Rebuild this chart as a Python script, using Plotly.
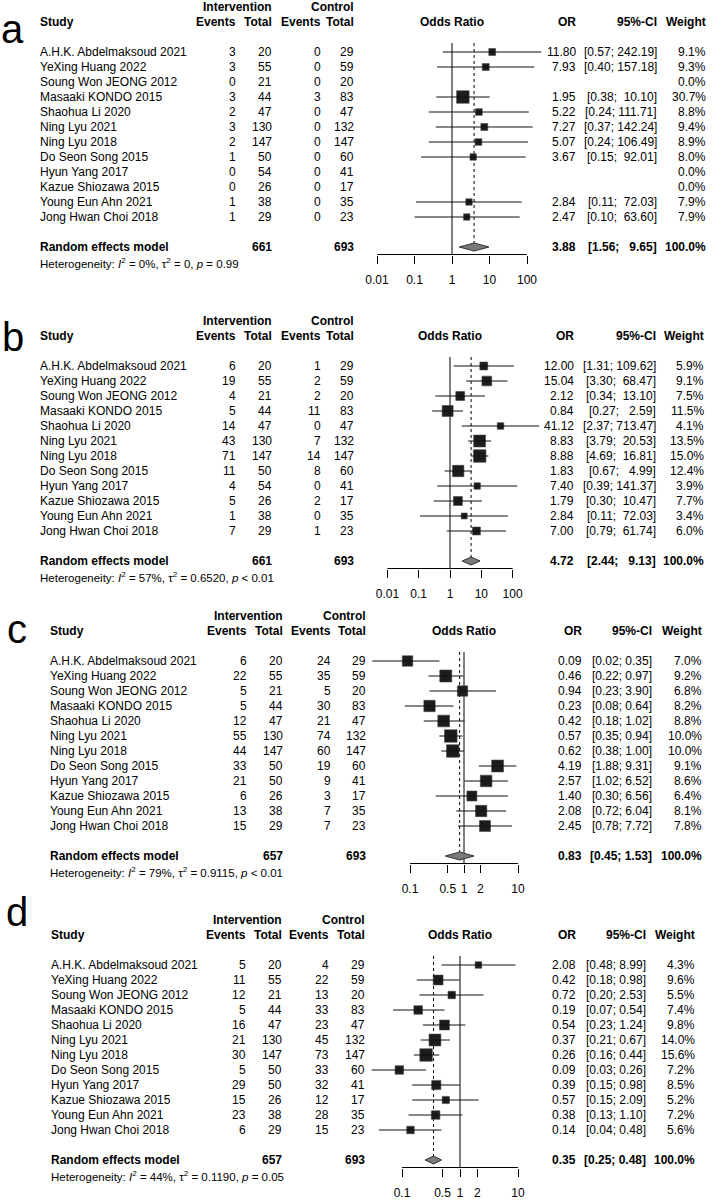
import math
import plotly.graph_objects as go

W, H = 715, 1202
FONT = "Liberation Sans, Arial, sans-serif"
NB = "\u00a0"

studies = ["A.H.K. Abdelmaksoud 2021", "YeXing Huang 2022", "Soung Won JEONG 2012",
           "Masaaki KONDO 2015", "Shaohua Li 2020", "Ning Lyu 2021", "Ning Lyu 2018",
           "Do Seon Song 2015", "Hyun Yang 2017", "Kazue Shiozawa 2015",
           "Young Eun Ahn 2021", "Jong Hwan Choi 2018"]
ctrl_total = [29, 59, 20, 83, 47, 132, 147, 60, 41, 17, 35, 23]
int_total_ab = [20, 55, 21, 44, 47, 130, 147, 50, 54, 26, 38, 29]
int_total_cd = [20, 55, 21, 44, 47, 130, 147, 50, 50, 26, 38, 29]

# Panel a
a_ev_i = [3, 3, 0, 3, 2, 3, 2, 1, 0, 0, 1, 1]
a_ev_c = [0, 0, 0, 3, 0, 0, 0, 0, 0, 0, 0, 0]
a_or = [11.80, 7.93, None, 1.95, 5.22, 7.27, 5.07, 3.67, None, None, 2.84, 2.47]
a_lo = [0.57, 0.40, None, 0.38, 0.24, 0.37, 0.24, 0.15, None, None, 0.11, 0.10]
a_hi = [242.19, 157.18, None, 10.10, 111.71, 142.24, 106.49, 92.01, None, None, 72.03, 63.60]
a_w = [9.1, 9.3, 0.0, 30.7, 8.8, 9.4, 8.9, 8.0, 0.0, 0.0, 7.9, 7.9]
a_sum = (3.88, 1.56, 9.65)
a_tot = (661, 693)
a_het = "Heterogeneity: <i>I</i><sup>2</sup> = 0%, τ<sup>2</sup> = 0, <i>p</i> = 0.99"

# Panel b
b_ev_i = [6, 19, 4, 5, 14, 43, 71, 11, 4, 5, 1, 7]
b_ev_c = [1, 2, 2, 11, 0, 7, 14, 8, 0, 2, 0, 1]
b_or = [12.00, 15.04, 2.12, 0.84, 41.12, 8.83, 8.88, 1.83, 7.40, 1.79, 2.84, 7.00]
b_lo = [1.31, 3.30, 0.34, 0.27, 2.37, 3.79, 4.69, 0.67, 0.39, 0.30, 0.11, 0.79]
b_hi = [109.62, 68.47, 13.10, 2.59, 713.47, 20.53, 16.81, 4.99, 141.37, 10.47, 72.03, 61.74]
b_w = [5.9, 9.1, 7.5, 11.5, 4.1, 13.5, 15.0, 12.4, 3.9, 7.7, 3.4, 6.0]
b_sum = (4.72, 2.44, 9.13)
b_tot = (661, 693)
b_het = "Heterogeneity: <i>I</i><sup>2</sup> = 57%, τ<sup>2</sup> = 0.6520, <i>p</i> < 0.01"

# Panel c
c_ev_i = [6, 22, 5, 5, 12, 55, 44, 33, 21, 6, 13, 15]
c_ev_c = [24, 35, 5, 30, 21, 74, 60, 19, 9, 3, 7, 7]
c_or = [0.09, 0.46, 0.94, 0.23, 0.42, 0.57, 0.62, 4.19, 2.57, 1.40, 2.08, 2.45]
c_lo = [0.02, 0.22, 0.23, 0.08, 0.18, 0.35, 0.38, 1.88, 1.02, 0.30, 0.72, 0.78]
c_hi = [0.35, 0.97, 3.90, 0.64, 1.02, 0.94, 1.00, 9.31, 6.52, 6.56, 6.04, 7.72]
c_w = [7.0, 9.2, 6.8, 8.2, 8.8, 10.0, 10.0, 9.1, 8.6, 6.4, 8.1, 7.8]
c_sum = (0.83, 0.45, 1.53)
c_tot = (657, 693)
c_het = "Heterogeneity: <i>I</i><sup>2</sup> = 79%, τ<sup>2</sup> = 0.9115, <i>p</i> < 0.01"

# Panel d
d_ev_i = [5, 11, 12, 5, 16, 21, 30, 5, 29, 15, 23, 6]
d_ev_c = [4, 22, 13, 33, 23, 45, 73, 33, 32, 12, 28, 15]
d_or = [2.08, 0.42, 0.72, 0.19, 0.54, 0.37, 0.26, 0.09, 0.39, 0.57, 0.38, 0.14]
d_lo = [0.48, 0.18, 0.20, 0.07, 0.23, 0.21, 0.16, 0.03, 0.15, 0.15, 0.13, 0.04]
d_hi = [8.99, 0.98, 2.53, 0.54, 1.24, 0.67, 0.44, 0.26, 0.98, 2.09, 1.10, 0.48]
d_w = [4.3, 9.6, 5.5, 7.4, 9.8, 14.0, 15.6, 7.2, 8.5, 5.2, 7.2, 5.6]
d_sum = (0.35, 0.25, 0.48)
d_tot = (657, 693)
d_het = "Heterogeneity: <i>I</i><sup>2</sup> = 44%, τ<sup>2</sup> = 0.1190, <i>p</i> = 0.05"

ticks_ab = [0.01, 0.1, 1, 10, 100]
ticklabels_ab = ["0.01", "0.1", "1", "10", "100"]
ticks_cd = [0.1, 0.5, 1, 2, 10]
ticklabels_cd = ["0.1", "0.5", "1", "2", "10"]

panels = [
    dict(letter="a", ev_i=a_ev_i, n_i=int_total_ab, ev_c=a_ev_c, n_c=ctrl_total, orv=a_or, lo=a_lo, hi=a_hi,
         w=a_w, summ=a_sum, tot=a_tot, het=a_het, ticks=ticks_ab, ticklabels=ticklabels_ab),
    dict(letter="b", ev_i=b_ev_i, n_i=int_total_ab, ev_c=b_ev_c, n_c=ctrl_total, orv=b_or, lo=b_lo, hi=b_hi,
         w=b_w, summ=b_sum, tot=b_tot, het=b_het, ticks=ticks_ab, ticklabels=ticklabels_ab),
    dict(letter="c", ev_i=c_ev_i, n_i=int_total_cd, ev_c=c_ev_c, n_c=ctrl_total, orv=c_or, lo=c_lo, hi=c_hi,
         w=c_w, summ=c_sum, tot=c_tot, het=c_het, ticks=ticks_cd, ticklabels=ticklabels_cd),
    dict(letter="d", ev_i=d_ev_i, n_i=int_total_cd, ev_c=d_ev_c, n_c=ctrl_total, orv=d_or, lo=d_lo, hi=d_hi,
         w=d_w, summ=d_sum, tot=d_tot, het=d_het, ticks=ticks_cd, ticklabels=ticklabels_cd),
]

# layout geometry (pixels)
geo = [
    dict(row1=52, letter_xy=(12, 29), name_x=39, cols=[237, 273, 322, 355], center=452, ppd=37.5,
         or_x=577, ci_x=658, w_x=707),
    dict(row1=366, letter_xy=(13, 337), name_x=39, cols=[237, 273, 322, 355], center=450, ppd=31.3,
         or_x=575, ci_x=657, w_x=705),
    dict(row1=661, letter_xy=(17, 629), name_x=49, cols=[248, 284, 332, 367], center=464, ppd=54,
         or_x=583, ci_x=653, w_x=703),
    dict(row1=965, letter_xy=(17, 912), name_x=50, cols=[247, 283, 330, 366], center=460, ppd=58,
         or_x=577, ci_x=647, w_x=696),
]
ROWH = 15.0
SUM_ROW = 14
AXIS_OFF = 7.5   # px below summary row
HET_OFF = 16     # px below summary row
DIAM_H = 4.0     # half-height of diamond in px
SQ_MAX = 12.5
X_DOM = (362, 552)

fig = go.Figure()


def txt(x_px, y_px, text, anchor="left", size=12, bold=False):
    fig.add_annotation(x=x_px / W, y=1 - y_px / H, xref="paper", yref="paper",
                       text=("<b>%s</b>" % text) if bold else text, showarrow=False,
                       xanchor=anchor, yanchor="middle", borderpad=0,
                       font=dict(family=FONT, size=size, color="black"))


def f2(v):
    return "%.2f" % v


for i, (p, g) in enumerate(zip(panels, geo)):
    k = "" if i == 0 else str(i + 1)
    xa, ya = "x" + k, "y" + k
    row1 = g["row1"]

    def rpx(r):
        return row1 + (r - 1) * ROWH

    axis_px = rpx(SUM_ROW) + AXIS_OFF
    axis_row = SUM_ROW + AXIS_OFF / ROWH
    top_px = row1 - 20
    bot_px = axis_px + 5
    fig.update_layout(**{
        "yaxis" + k: dict(domain=[1 - bot_px / H, 1 - top_px / H],
                          range=[1 + (bot_px - row1) / ROWH, 1 + (top_px - row1) / ROWH],
                          visible=False, fixedrange=True),
        "xaxis" + k: dict(type="log", domain=[X_DOM[0] / W, X_DOM[1] / W],
                          range=[(X_DOM[0] - g["center"]) / g["ppd"], (X_DOM[1] - g["center"]) / g["ppd"]],
                          anchor="free", position=1 - axis_px / H,
                          tickmode="array", tickvals=p["ticks"], ticktext=p["ticklabels"],
                          ticks="outside", ticklen=8, tickwidth=1, tickcolor="black",
                          showline=False, showgrid=False, zeroline=False,
                          tickfont=dict(family=FONT, size=12, color="black"),
                          ticklabelstandoff=6, fixedrange=True),
    })

    rows = list(range(1, len(studies) + 1))
    # baseline of axis
    fig.add_trace(go.Scatter(x=[p["ticks"][0], p["ticks"][-1]], y=[axis_row, axis_row], mode="lines",
                             line=dict(color="black", width=1), xaxis=xa, yaxis=ya, hoverinfo="skip"))
    # null line
    fig.add_trace(go.Scatter(x=[1, 1], y=[0.4, axis_row], mode="lines",
                             line=dict(color="black", width=1), xaxis=xa, yaxis=ya, hoverinfo="skip"))
    s_or, s_lo, s_hi = p["summ"]
    dh = DIAM_H / ROWH
    fig.add_trace(go.Scatter(x=[s_or, s_or], y=[0.4, SUM_ROW - dh], mode="lines",
                             line=dict(color="black", width=1, dash="dot"), xaxis=xa, yaxis=ya, hoverinfo="skip"))
    # squares
    wmax = max(p["w"])
    sx, sy, ss = [], [], []
    for r, o, wt in zip(rows, p["orv"], p["w"]):
        if o is None:
            continue
        sx.append(o)
        sy.append(r)
        ss.append(SQ_MAX * math.sqrt(wt / wmax))
    fig.add_trace(go.Scatter(x=sx, y=sy, mode="markers",
                             marker=dict(symbol="square", size=ss, color="#1c1c1c", opacity=1,
                                         line=dict(width=0.6, color="#444444")),
                             xaxis=xa, yaxis=ya, hoverinfo="skip"))
    # CI lines
    lx, ly = [], []
    for r, lo, hi in zip(rows, p["lo"], p["hi"]):
        if lo is None:
            continue
        lx += [lo, hi, None]
        ly += [r, r, None]
    fig.add_trace(go.Scatter(x=lx, y=ly, mode="lines", line=dict(color="#111111", width=1),
                             xaxis=xa, yaxis=ya, hoverinfo="skip"))
    # diamond
    fig.add_trace(go.Scatter(x=[s_lo, s_or, s_hi, s_or, s_lo], y=[SUM_ROW, SUM_ROW - dh, SUM_ROW, SUM_ROW + dh, SUM_ROW],
                             mode="lines", fill="toself", fillcolor="#7a7a7a",
                             line=dict(color="#333333", width=1), xaxis=xa, yaxis=ya, hoverinfo="skip"))

    # ---- text ----
    txt(g["letter_xy"][0], g["letter_xy"][1], p["letter"], anchor="center", size=40)
    cols = g["cols"]
    txt(cols[1], rpx(-2), "Intervention", "right", bold=True)
    txt(cols[3], rpx(-2), "Control", "right", bold=True)
    txt(g["name_x"], rpx(-1), "Study", "left", bold=True)
    txt(cols[0], rpx(-1), "Events", "right", bold=True)
    txt(cols[1], rpx(-1), "Total", "right", bold=True)
    txt(cols[2], rpx(-1), "Events", "right", bold=True)
    txt(cols[3], rpx(-1), "Total", "right", bold=True)
    txt(g["center"], rpx(-1), "Odds Ratio", "center", bold=True)
    txt(g["or_x"], rpx(-1), "OR", "right", bold=True)
    txt(g["ci_x"], rpx(-1), "95%-CI", "right", bold=True)
    txt(g["w_x"], rpx(-1), "Weight", "right", bold=True)

    # CI string widths
    lo_strs = [f2(v) for v in p["lo"] if v is not None] + [f2(s_lo)]
    hi_strs = [f2(v) for v in p["hi"] if v is not None] + [f2(s_hi)]
    wl = max(len(s) for s in lo_strs)
    wh = max(len(s) for s in hi_strs)

    def ci_str(lo, hi):
        s = "[" + f2(lo).rjust(wl) + "; " + f2(hi).rjust(wh) + "]"
        return s.replace(" ", NB)

    for r, name, ei, ni, ec, nc, o, lo, hi, wt in zip(rows, studies, p["ev_i"], p["n_i"], p["ev_c"], p["n_c"],
                                                      p["orv"], p["lo"], p["hi"], p["w"]):
        y = rpx(r)
        txt(g["name_x"], y, name, "left")
        txt(cols[0], y, str(ei), "right")
        txt(cols[1], y, str(ni), "right")
        txt(cols[2], y, str(ec), "right")
        txt(cols[3], y, str(nc), "right")
        if o is not None:
            txt(g["or_x"], y, f2(o), "right")
            txt(g["ci_x"], y, ci_str(lo, hi), "right")
        txt(g["w_x"], y, "%.1f%%" % wt, "right")

    ys = rpx(SUM_ROW)
    txt(g["name_x"], ys, "Random effects model", "left", bold=True)
    txt(cols[1], ys, str(p["tot"][0]), "right", bold=True)
    txt(cols[3], ys, str(p["tot"][1]), "right", bold=True)
    txt(g["or_x"], ys, f2(s_or), "right", bold=True)
    txt(g["ci_x"], ys, ci_str(s_lo, s_hi), "right", bold=True)
    txt(g["w_x"], ys, "100.0%", "right", bold=True)
    txt(g["name_x"], ys + HET_OFF, p["het"], "left", size=11.5)

fig.update_layout(width=W, height=H, margin=dict(l=0, r=0, t=0, b=0),
                  paper_bgcolor="white", plot_bgcolor="rgba(0,0,0,0)", showlegend=False,
                  font=dict(family=FONT, size=12, color="black"))

fig.write_html("out.html")
